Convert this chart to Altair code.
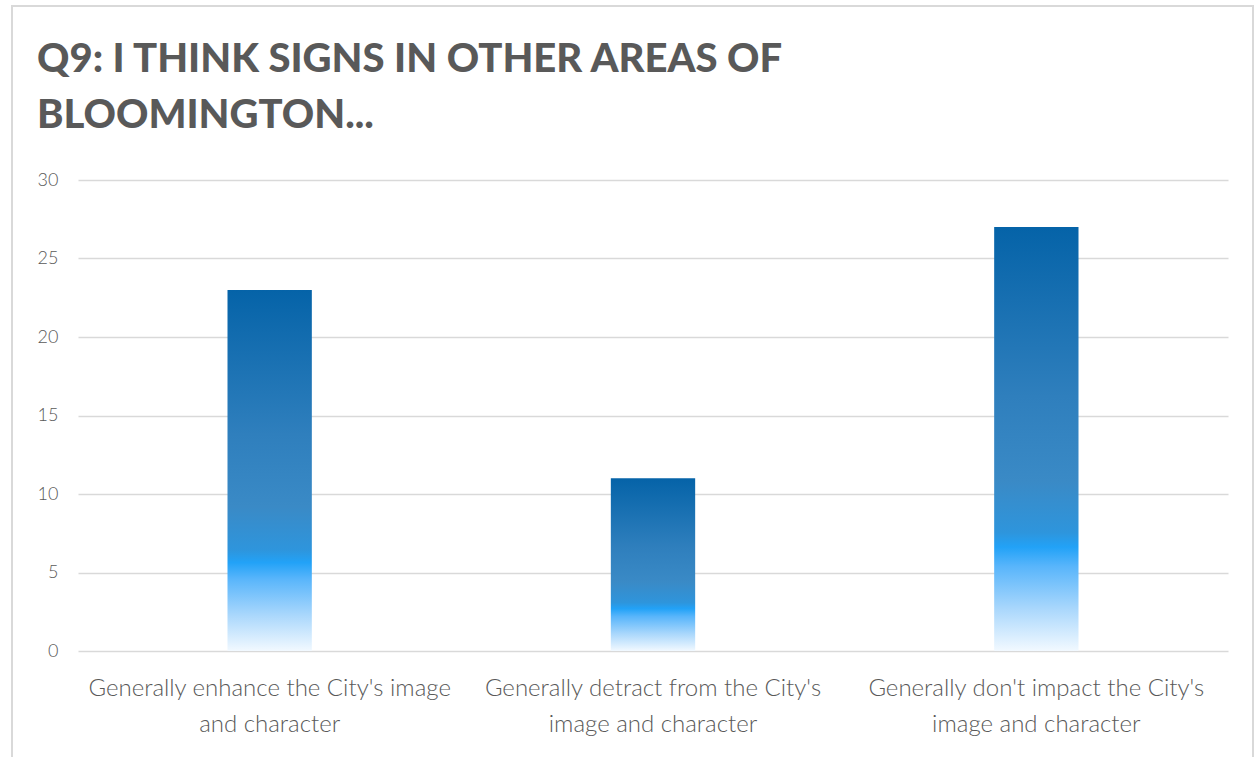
import json
import altair as alt
import pandas as pd

CATEGORIES = [
    "Generally enhance the City's image and character",
    "Generally detract from the City's image and character",
    "Generally don't impact the City's image and character",
]
LABEL_LINES = [
    ["Generally enhance the City's image", "and character"],
    ["Generally detract from the City's", "image and character"],
    ["Generally don't impact the City's", "image and character"],
]
VALUES = [23, 11, 27]
TITLE_LINES = ["Q9: I THINK SIGNS IN OTHER AREAS OF", "BLOOMINGTON..."]

df = pd.DataFrame({"category": CATEGORIES, "count": VALUES})
label_map = json.dumps(dict(zip(CATEGORIES, LABEL_LINES)))

gradient = alt.Gradient(
    gradient="linear",
    x1=0, x2=0, y1=0, y2=1,
    stops=[
        alt.GradientStop(color="#0563a8", offset=0.0),
        alt.GradientStop(color="#2f7fbd", offset=0.4),
        alt.GradientStop(color="#3a8ac6", offset=0.6),
        alt.GradientStop(color="#2e95dc", offset=0.72),
        alt.GradientStop(color="#22a2f7", offset=0.755),
        alt.GradientStop(color="#58b5fb", offset=0.8),
        alt.GradientStop(color="#a9d7fc", offset=0.9),
        alt.GradientStop(color="#f2f9ff", offset=1.0),
    ],
)

bars = alt.Chart(df).mark_bar(color=gradient).encode(
    x=alt.X(
        "category:N",
        sort=CATEGORIES,
        scale=alt.Scale(paddingInner=0.78, paddingOuter=0.39),
        axis=alt.Axis(
            title=None, labelAngle=0, ticks=False, domain=False, grid=False,
            labelFontSize=24, labelColor="#595959", labelFont="Lato",
            labelFontWeight=300, labelLimit=0,
            labelPadding=25, labelLineHeight=36,
            labelExpr=label_map + "[datum.label]",
        ),
    ),
    y=alt.Y(
        "count:Q",
        scale=alt.Scale(domain=[0, 30]),
        axis=alt.Axis(
            title=None, values=[0, 5, 10, 15, 20, 25, 30], ticks=False, domain=False,
            labelFontSize=18, labelColor="#595959", labelFont="Lato",
            labelFontWeight=300,
            labelPadding=20, gridColor="#d9d9d9", gridWidth=1.5,
        ),
    ),
)

border = alt.Chart(alt.Data(values=[{"a": 1}])).mark_rect(
    fill=None, stroke="#d9d9d9", strokeWidth=2
).encode(
    x=alt.value(-66), x2=alt.value(1175), y=alt.value(-174), y2=alt.value(620)
)

chart = alt.layer(border, bars).properties(
    width=1150,
    height=471,
    padding={"left": 78, "top": 180, "right": 28, "bottom": 106},
    autosize=alt.AutoSizeParams(type="none"),
    background="white",
    title=alt.TitleParams(
        text=TITLE_LINES,
        anchor="start",
        font="Lato",
        fontSize=40,
        fontWeight=900,
        color="#595959",
        lineHeight=56,
        baseline="alphabetic",
        dx=26,
        dy=163,
        offset=0,
    ),
).configure_view(stroke=None)

chart.save("out.html", embed_options={"renderer": "svg", "actions": False})
